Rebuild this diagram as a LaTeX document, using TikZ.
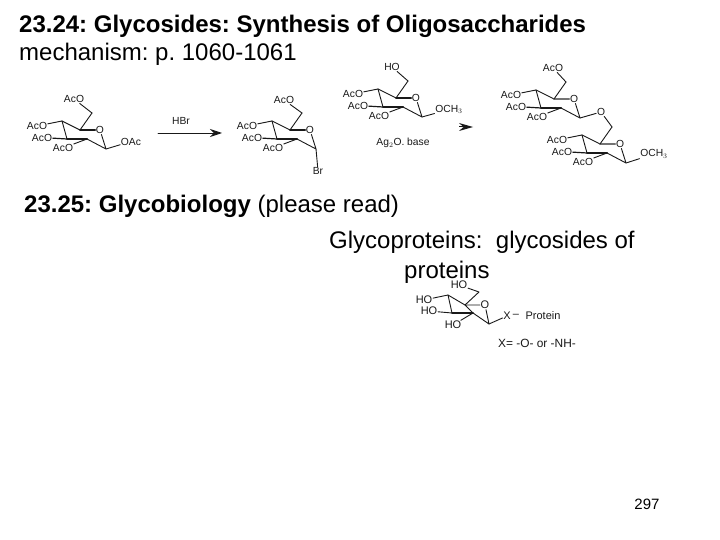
\documentclass[tikz,border=0pt]{standalone}
\usepackage{fontspec}
\setmainfont{Liberation Sans}
\usetikzlibrary{arrows.meta}
\frenchspacing
\tikzset{
  x=1pt,y=-1pt,
  lab/.style={font=\fontsize{10.3}{11}\selectfont,inner sep=0.6pt,text=black!90},
  plab/.style={font=\fontsize{11}{12}\selectfont,inner sep=0.6pt,text=black!90},
  bond/.style={line width=0.9pt,black!90,line cap=round,line join=round},
  hbond/.style={line width=2pt,black!90,line cap=round},
  big/.style={font=\fontsize{24}{26}\selectfont,anchor=base west,inner sep=0pt},
}
% name, x, y, heavy bond colour
\newcommand{\ring}[4]{%
\begin{scope}[shift={(#2,#3)}]
\coordinate (#1c4) at (0,0);
\coordinate (#1c5) at (18,9);
\coordinate (#1c6) at (30,-8);
\coordinate (#1c1) at (44,28);
\coordinate (#1c2) at (25,18);
\coordinate (#1c3) at (5,18);
\node[lab] (#1o) at (38,9) {O};
\node[lab] (#1a) at (-25,5) {AcO};
\node[lab] (#1b) at (-20,16.5) {AcO};
\node[lab] (#1d) at (1,27) {AcO};
\draw[bond] (#1c4) -- (#1c5);
\draw[hbond,#4] (#1c5) -- (#1o);
\draw[bond] (#1c5) -- (#1c6);
\draw[bond] (#1o) -- (#1c1) -- (#1c2);
\draw[hbond] (#1c2) -- (#1c3);
\draw[bond] (#1c3) -- (#1c4);
\draw[bond] (#1a) -- (#1c4);
\draw[hbond,line width=1.2pt] (#1b) -- (#1c3);
\draw[bond] (#1d) -- (#1c2);
\end{scope}}
\begin{document}
\begin{tikzpicture}
\useasboundingbox (0,0) rectangle (720,540);
\fill[white] (0,0) rectangle (720,540);
% headings
\node[big,font=\fontsize{24}{26}\selectfont\bfseries] (t1) at (19,33) {23.24: Glycosides: Synthesis of Oligosaccharides};
\node[big] (t2) at (19,61) {mechanism: p. 1060-1061};
\node[big] (t3) at (24,213) {\textbf{23.25: Glycobiology} (please read)};
\node[big] (t4) at (329,248) {Glycoproteins:\ \ glycosides of};
\node[big] (t5) at (404,278) {proteins};
\node[font=\fontsize{15}{17}\selectfont,inner sep=0pt] (pg) at (647,504) {297};
% first sugar
\ring{p}{62}{121}{black!90}
\node[lab] (pt) at (74,99) {AcO};
\draw[bond] (pt) -- (pc6);
\node[lab] (px) at (131,141.5) {OAc};
\draw[bond] (pc1) -- (px);
% HBr arrow
\coordinate (a1) at (158,133);
\coordinate (a2) at (222,133);
\draw[bond,-{Stealth[length=12pt,width=8pt]}] (a1) -- (a2);
\node[lab] (hbr) at (181,121) {HBr};
% bromide
\ring{q}{272}{121}{black!90}
\node[lab] (qt) at (284,100) {AcO};
\draw[bond] (qt) -- (qc6);
\node[lab] (qx) at (318,171) {Br};
\draw[bond] (qc1) -- (qx);
% alcohol
\ring{r}{378}{89}{black!90}
\node[lab] (rt) at (392,67) {HO};
\draw[bond] (rt) -- (rc6);
\node[lab] (rx) at (449,109.5) {OCH$_3$};
\draw[bond] (rc1) -- (rx);
\node[lab] (ag) at (403,143) {Ag$_2$O. base};
% second arrow head
\coordinate (b1) at (459,127);
\coordinate (b2) at (473,127);
\draw[line width=0pt,black!90,-{Stealth[length=14pt,width=8pt]}] (b1) -- (b2);
% disaccharide
\ring{s}{536}{90}{black!55}
\node[lab] (st) at (553,68) {AcO};
\draw[bond] (st) -- (sc6);
\ring{u}{582}{135}{black!55}
\node[lab] (so) at (601,112) {O};
\draw[bond] (sc1) -- (so) -- (uc6);
\node[lab] (ux) at (654,154) {OCH$_3$};
\draw[bond] (uc1) -- (ux);
% glycoprotein
\coordinate (vc4) at (448,295);
\coordinate (vc5) at (465,305);
\coordinate (vc6) at (479,292);
\coordinate (vc1) at (489,324);
\coordinate (vc2) at (473,313);
\coordinate (vc3) at (452,313);
\node[plab] (vo) at (485,305) {O};
\node[plab] (vt) at (459,285) {HO};
\node[plab] (va) at (424,300) {HO};
\node[plab] (vb) at (429,311) {HO};
\node[plab] (vd) at (453,325) {HO};
\node[plab] (vx) at (507,316) {X};
\node[plab] (vm) at (516,316) {--};
\node[plab] (vp) at (543,316) {Protein};
\node[plab,font=\fontsize{11.9}{13}\selectfont] (vk) at (537,343) {X= -O- or -NH-};
\draw[bond] (vt) -- (vc6) -- (vc5) -- (vc4) -- (vc3);
\draw[bond] (vc5) -- (vo) -- (vc1) -- (vc2) -- (vc5);
\draw[hbond,line width=1.6pt] (vc2) -- (vc3);
\draw[bond] (va) -- (vc4);
\draw[bond] (vb) -- (vc3);
\draw[bond] (vd) -- (vc2);
\draw[bond] (vc1) -- (vx);
\end{tikzpicture}
\end{document}
